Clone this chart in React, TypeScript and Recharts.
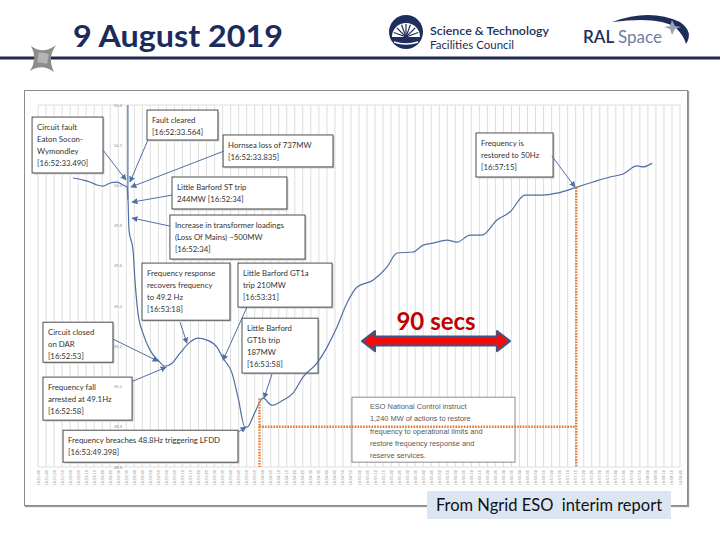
import React from 'react';
import {
  LineChart,
  Line,
  XAxis,
  YAxis,
  CartesianGrid,
  ReferenceLine,
  ReferenceArea,
  ReferenceDot,
} from 'recharts';

// time in seconds after 16:51:40, frequency in Hz
const seconds = [
  21.8, 28.0, 32.4, 36.8, 40.5, 44.9, 49.2, 53.0, 55.5, 56.1, 56.7, 59.2, 60.4, 62.3, 65.4,
  69.8, 74.8, 79.1, 83.5, 88.5, 94.7, 99.7, 105.3, 111.5, 115.3, 120.9, 124.6, 129.0, 130.2,
  135.2, 140.2, 145.8, 152.6, 158.9, 165.1, 173.8, 180.1, 186.3, 192.5, 198.8, 208.7, 217.4,
  223.7, 233.6, 239.9, 246.1, 254.8, 261.1, 269.2, 276.6, 286.0, 294.1, 303.4, 314.6, 323.4,
  335.8, 345.8, 356.4, 364.5, 373.2, 376.9, 382.6,
];
const frequency = [
  50.037, 50.027, 50.017, 50.002, 49.997, 50.012, 50.017, 50.002, 49.992, 49.928, 49.778,
  49.679, 49.529, 49.365, 49.266, 49.181, 49.131, 49.101, 49.116, 49.166, 49.221, 49.241,
  49.231, 49.196, 49.141, 49.067, 48.947, 48.798, 48.798, 48.873, 48.942, 48.907, 48.932,
  48.967, 49.047, 49.116, 49.196, 49.296, 49.415, 49.495, 49.529, 49.594, 49.664, 49.669,
  49.703, 49.713, 49.728, 49.718, 49.753, 49.753, 49.828, 49.868, 49.952, 49.952, 49.962,
  49.992, 50.017, 50.042, 50.057, 50.097, 50.092, 50.111,
];
const yTicks = [48.6, 48.8, 49.0, 49.2, 49.4, 49.6, 49.8, 50.0, 50.2, 50.4];
const xTicks = Array.from({ length: 81 }, (_, i) => i * 5);
const START_CLOCK = 16 * 3600 + 51 * 60 + 40;

const FAULT_T = 56;
const GT1B_T = 138; // 16:53:58
const RESTORED_T = 335.4; // 16:57:15
const LFDD_F = 48.8;

type Note = {
  lines: string[];
  t1: number;
  t2: number;
  f1: number;
  f2: number;
  from: [number, number];
  to: [number, number];
};

const notes: Note[] = [
  { lines: ['Circuit fault', 'Eaton Socon-', 'Wymondley', '[16:52:33.490]'], t1: -3.7, t2: 40.5, f1: 50.34, f2: 50.062, from: [40.5, 50.176], to: [54.8, 50.027] },
  { lines: ['Fault cleared', '[16:52:33.564]'], t1: 67.9, t2: 112.1, f1: 50.375, f2: 50.226, from: [68.5, 50.226], to: [57.3, 50.017] },
  { lines: ['Hornsea loss of 737MW', '[16:52:33.835]'], t1: 115.3, t2: 183.8, f1: 50.251, f2: 50.092, from: [115.9, 50.171], to: [57.9, 49.992] },
  { lines: ['Little Barford ST trip', '244MW [16:52:34]'], t1: 83.5, t2: 155.1, f1: 50.042, f2: 49.883, from: [83.5, 49.952], to: [58.6, 49.917] },
  { lines: ['Increase in transformer loadings', '(Loss Of Mains) ~500MW', '[16:52:34]'], t1: 82.2, t2: 166.4, f1: 49.853, f2: 49.634, from: [82.2, 49.798], to: [58.6, 49.838] },
  { lines: ['Frequency response', 'recovers frequency', 'to 49.2 Hz', '[16:53:18]'], t1: 64.8, t2: 119.6, f1: 49.614, f2: 49.33, from: [88.5, 49.32], to: [92.8, 49.216] },
  { lines: ['Little Barford GT1a', 'trip 210MW', '[16:53:31]'], t1: 124.6, t2: 183.2, f1: 49.614, f2: 49.395, from: [130.2, 49.395], to: [115.3, 49.131] },
  { lines: ['Little Barford', 'GT1b trip', '187MW', '[16:53:58]'], t1: 127.1, t2: 174.5, f1: 49.34, f2: 49.067, from: [145.8, 49.062], to: [140.8, 48.942] },
  { lines: ['Circuit closed', 'on DAR', '[16:52:53]'], t1: 3.1, t2: 46.7, f1: 49.32, f2: 49.121, from: [46.7, 49.236], to: [74.8, 49.126] },
  { lines: ['Frequency fall', 'arrested at 49.1Hz', '[16:52:58]'], t1: 3.1, t2: 58.6, f1: 49.047, f2: 48.833, from: [59.2, 49.027], to: [79.8, 49.096] },
  { lines: ['Frequency breaches 48.8Hz triggering LFDD', '[16:53:49.398]'], t1: 15.6, t2: 124.6, f1: 48.783, f2: 48.624, from: [124.6, 48.773], to: [129.6, 48.798] },
  { lines: ['Frequency is', 'restored to 50Hz', '[16:57:15]'], t1: 272.9, t2: 320.9, f1: 50.261, f2: 50.042, from: [320.2, 50.146], to: [334.6, 49.992] },
];

const esoLines = [
  'ESO National Control instruct',
  '1,240 MW of actions to restore',
  'frequency to operational limits and',
  'restore frequency response and',
  'reserve services.',
];

const data = seconds.map((t, i) => ({ t, f: frequency[i] }));

const pad = (n: number) => String(n).padStart(2, '0');
const clock = (t: number) => {
  const s = START_CLOCK + t;
  return `${pad(Math.floor(s / 3600))}:${pad(Math.floor((s % 3600) / 60))}:${pad(Math.floor(s % 60))}`;
};

const CALIBRI = 'Lato, Carlito, "Open Sans", sans-serif';
const ARIAL = '"Liberation Sans", Arial, sans-serif';
const CURVE = '#4f6fa5';
const ORANGE = '#e9782f';

const TimeTick = (props: any) => {
  const { x, y, payload } = props;
  return (
    <text
      x={x}
      y={y}
      transform={`rotate(-90 ${x} ${y})`}
      textAnchor="end"
      dominantBaseline="central"
      fontSize={4}
      fill="#8a8a8a"
      fontFamily={ARIAL}
    >
      {clock(payload.value)}
    </text>
  );
};

const noteShape = (lines: string[]) => (p: any) => (
  <g>
    <rect x={p.x + 1.5} y={p.y + 1.5} width={p.width} height={p.height} fill="#cfcfcf" />
    <rect x={p.x} y={p.y} width={p.width} height={p.height} fill="#fff" stroke="#3a3a3a" strokeWidth={0.9} />
    {lines.map((s, i) => (
      <text key={i} x={p.x + 5} y={p.y + 13 + i * 12} fontSize={7.8} fill="#333" fontFamily={CALIBRI}>
        {s}
      </text>
    ))}
  </g>
);

const esoShape = (p: any) => (
  <g>
    <rect x={p.x} y={p.y} width={p.width} height={p.height} fill="#fff" stroke="#8c8c8c" strokeWidth={1} />
    {esoLines.map((s, i) => (
      <text key={i} x={p.x + 18} y={p.y + 12 + i * 12.2} fontSize={7.4} fill="#595959" fontFamily={ARIAL}>
        {s}
      </text>
    ))}
  </g>
);

const arrowShape = (p: any) => (
  <line x1={p.x1} y1={p.y1} x2={p.x2} y2={p.y2} stroke={CURVE} strokeWidth={1} markerEnd="url(#ah)" />
);

const dottedShape = (p: any) => (
  <line x1={p.x1} y1={p.y1} x2={p.x2} y2={p.y2} stroke={ORANGE} strokeWidth={2.4} strokeDasharray="1.6 1.2" />
);

const axisShape = (p: any) => (
  <line x1={p.x1} y1={p.y1} x2={p.x2} y2={p.y2} stroke={CURVE} strokeWidth={1.2} />
);

const spanShape = (p: any) => {
  const { x, y, width: w, height: h } = p;
  const cy = y + h / 2;
  const hl = 13;
  const sh = 4.5;
  const pts = [
    [x, cy], [x + hl, y], [x + hl, cy - sh], [x + w - hl, cy - sh], [x + w - hl, y], [x + w, cy],
    [x + w - hl, y + h], [x + w - hl, cy + sh], [x + hl, cy + sh], [x + hl, y + h],
  ].map((q) => q.join(',')).join(' ');
  return (
    <g>
      <polygon points={pts} fill="#f50a0a" stroke="#3e5585" strokeWidth={2} strokeLinejoin="round" />
      <text x={x + w / 2} y={cy - 11} textAnchor="middle" fontSize={24} fontWeight={700} fill="#c00000" fontFamily={CALIBRI}>
        90 secs
      </text>
    </g>
  );
};

const yLabelShape = (label: string) => (p: any) => (
  <text x={p.cx - 6} y={p.cy} textAnchor="end" dominantBaseline="central" fontSize={4} fill="#8a8a8a" fontFamily={ARIAL}>
    {label}
  </text>
);

function Header() {
  return (
    <svg width={720} height={90} style={{ position: 'absolute', left: 0, top: 0 }}>
      <line x1={0} y1={58} x2={720} y2={58} stroke="#1f2a4d" strokeWidth={3} />
      <path d="M31,46 Q43,55 56,45 Q47,58 54,72 Q42,63 30,71 Q38,58 31,46 Z" fill="#8c8c8c" />
      <rect x={38} y={53} width={10} height={10} fill="#b5b5b5" transform="rotate(8 43 58)" />
      <text x={73} y={47} fontSize={30} fontWeight={700} fill="#1b2b5b" fontFamily={CALIBRI} textLength={210} lengthAdjust="spacingAndGlyphs">
        9 August 2019
      </text>
      <circle cx={406} cy={32} r={17} fill="#1f2d5a" />
      <path d="M392,37 A14,14 0 0 1 420,37 Z" fill="#fff" />
      {[-70, -45, -20, 0, 20, 45, 70].map((a) => (
        <line
          key={a}
          x1={406}
          y1={37}
          x2={406 + 13 * Math.sin((a * Math.PI) / 180)}
          y2={37 - 13 * Math.cos((a * Math.PI) / 180)}
          stroke="#1f2d5a"
          strokeWidth={1.2}
        />
      ))}
      <path d="M394,42 Q406,46 418,42" stroke="#fff" strokeWidth={1.5} fill="none" />
      <text x={430} y={35} fontSize={11.5} fontWeight={600} fill="#1f2d5a" fontFamily={CALIBRI} textLength={119} lengthAdjust="spacingAndGlyphs">
        Science &amp; Technology
      </text>
      <text x={430} y={49} fontSize={11.5} fill="#1f2d5a" fontFamily={CALIBRI} textLength={84} lengthAdjust="spacingAndGlyphs">
        Facilities Council
      </text>
      <text x={583} y={43} fontSize={17} fontFamily={CALIBRI}>
        <tspan fill="#1f2d5a" fontWeight={600}>RAL </tspan>
        <tspan fill="#6c7fa6">Space</tspan>
      </text>
      <path d="M612,22 Q650,8 680,22 Q694,32 686,44 Q684,36 676,28 Q660,16 612,22 Z" fill="#1f2d5a" />
      <path d="M672,20 L675,26 L681,27 L675,29 L672,35 L670,29 L664,27 L670,26 Z" fill="#9aa3b5" />
    </svg>
  );
}

export default function App() {
  return (
    <div style={{ position: 'absolute', left: 0, top: 0, width: 720, height: 540, background: '#fff', overflow: 'hidden' }}>
      <svg width={0} height={0} style={{ position: 'absolute' }}>
        <defs>
          <marker id="ah" viewBox="0 0 10 10" refX={9} refY={5} markerWidth={6} markerHeight={6} orient="auto">
            <path d="M0,0 L10,5 L0,10 z" fill={CURVE} />
          </marker>
        </defs>
      </svg>
      <Header />
      <div
        style={{
          position: 'absolute',
          left: 24,
          top: 90,
          width: 662,
          height: 414,
          border: '1px solid #8c8c8c',
          boxShadow: '1px 1px 1px #9a9a9a',
        }}
      />
      <div style={{ position: 'absolute', left: 0, top: 0 }}>
        <LineChart width={720} height={540} data={data} margin={{ top: 105, right: 40, bottom: 53, left: 38 }}>
          <CartesianGrid stroke="#dedede" strokeWidth={1} />
          <XAxis
            dataKey="t"
            type="number"
            domain={[0, 400]}
            ticks={xTicks}
            interval={0}
            tick={<TimeTick />}
            tickLine={false}
            axisLine={false}
            tickSize={0}
            tickMargin={3}
            height={20}
          />
          <YAxis type="number" domain={[48.6, 50.4]} ticks={yTicks} width={0} tick={false} axisLine={false} tickLine={false} />
          {yTicks.map((v) => (
            <ReferenceDot key={v} x={FAULT_T} y={v} r={1} ifOverflow="visible" shape={yLabelShape(v.toFixed(1))} />
          ))}
          <ReferenceLine
            segment={[{ x: FAULT_T, y: 50.4 }, { x: FAULT_T, y: 49.93 }]}
            ifOverflow="visible"
            shape={axisShape}
          />
          <Line type="monotone" dataKey="f" stroke={CURVE} strokeWidth={1.2} dot={false} isAnimationActive={false} />
          <ReferenceLine segment={[{ x: GT1B_T, y: 48.94 }, { x: GT1B_T, y: 48.6 }]} ifOverflow="visible" shape={dottedShape} />
          <ReferenceLine segment={[{ x: GT1B_T, y: LFDD_F }, { x: RESTORED_T, y: LFDD_F }]} ifOverflow="visible" shape={dottedShape} />
          <ReferenceLine segment={[{ x: RESTORED_T, y: 49.99 }, { x: RESTORED_T, y: 48.6 }]} ifOverflow="visible" shape={dottedShape} />
          <ReferenceArea x1={195.6} x2={297.2} y1={48.947} y2={48.624} ifOverflow="visible" shape={esoShape} />
          {notes.map((n, i) => (
            <ReferenceArea key={`b${i}`} x1={n.t1} x2={n.t2} y1={n.f1} y2={n.f2} ifOverflow="visible" shape={noteShape(n.lines)} />
          ))}
          {notes.map((n, i) => (
            <ReferenceLine
              key={`a${i}`}
              segment={[{ x: n.from[0], y: n.from[1] }, { x: n.to[0], y: n.to[1] }]}
              ifOverflow="visible"
              shape={arrowShape}
            />
          ))}
          <ReferenceArea x1={201.9} x2={294.1} y1={49.276} y2={49.176} ifOverflow="visible" shape={spanShape} />
        </LineChart>
      </div>
      <div
        style={{
          position: 'absolute',
          left: 427,
          top: 491,
          width: 244,
          height: 28,
          background: '#dce6f2',
          fontFamily: CALIBRI,
          fontSize: 16.5,
          color: '#111',
          display: 'flex',
          alignItems: 'center',
          justifyContent: 'center',
          whiteSpace: 'pre',
        }}
      >
        From Ngrid ESO  interim report
      </div>
    </div>
  );
}
